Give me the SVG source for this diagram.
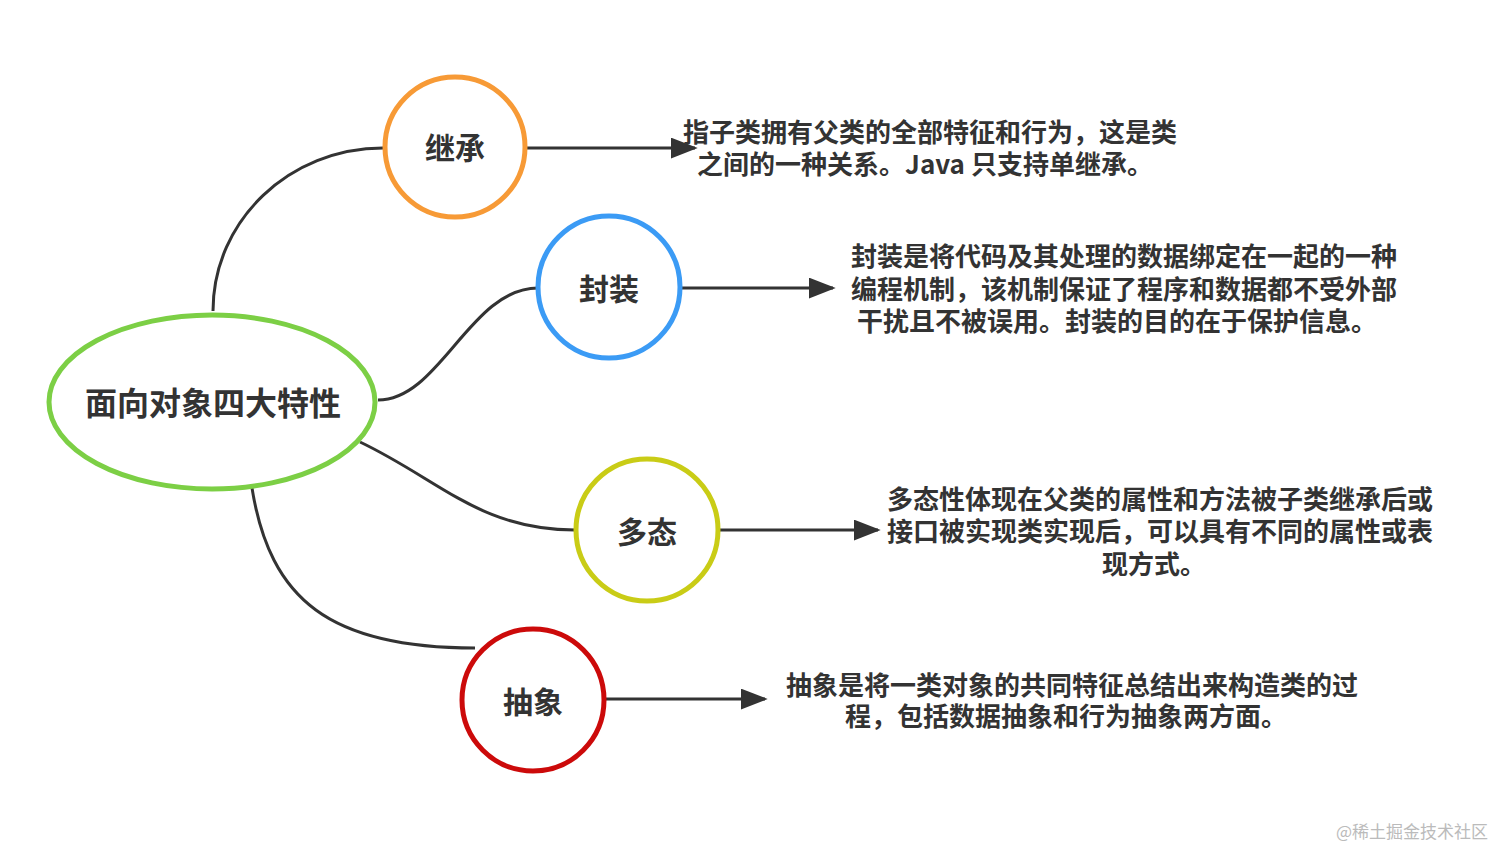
<svg xmlns="http://www.w3.org/2000/svg" width="1494" height="848" viewBox="0 0 1494 848">
<defs>
<marker id="ah" viewBox="0 0 10 10" refX="9" refY="5" markerWidth="9" markerHeight="7" markerUnits="strokeWidth" orient="auto" preserveAspectRatio="none"><path d="M0,0 L10,5 L0,10 z" fill="#333"/></marker>
<style>
.c{fill:#fff;stroke-width:5}
.l{font-family:"Noto Sans CJK SC","Noto Sans",sans-serif;font-weight:bold;fill:#333;text-anchor:middle}
.n{font-size:30px}
.d{font-size:26px}
.e{fill:none;stroke:#333;stroke-width:3}
</style>
</defs>
<rect width="1494" height="848" fill="#fff"/>
<g id="connectors">
<path class="e" d="M213,311 C213,220 290,148 383,148"/>
<path class="e" d="M378,400 C440,400 470,288 538,288"/>
<path class="e" d="M360,442 C440,480 480,530 575,530"/>
<path class="e" d="M252,488 C270,600 330,648 475,648"/>
<path class="e" d="M527,148 L695,148" marker-end="url(#ah)"/>
<path class="e" d="M681,288 L833,288" marker-end="url(#ah)"/>
<path class="e" d="M720,530 L878,530" marker-end="url(#ah)"/>
<path class="e" d="M606,699 L765,699" marker-end="url(#ah)"/>
</g>
<g id="root"><ellipse class="c" cx="212" cy="402" rx="163" ry="87" stroke="#7ccf45"/><text class="l" x="213" y="415" font-size="32">面向对象四大特性</text></g>
<g id="jicheng"><circle class="c" cx="455" cy="147" r="70" stroke="#f79a36"/><text class="l n" x="455" y="159">继承</text></g>
<g id="fengzhuang"><circle class="c" cx="609" cy="287" r="71" stroke="#3b9bf5"/><text class="l n" x="609" y="300">封装</text></g>
<g id="duotai"><circle class="c" cx="647" cy="530" r="71" stroke="#c9cc16"/><text class="l n" x="647" y="543">多态</text></g>
<g id="chouxiang"><circle class="c" cx="533" cy="700" r="71" stroke="#cc0a0a"/><text class="l n" x="533" y="713">抽象</text></g>
<g id="t1"><text class="l d" x="930" y="142">指子类拥有父类的全部特征和行为，这是类</text><text class="l d" x="925" y="174">之间的一种关系。Java 只支持单继承。</text></g>
<g id="t2"><text class="l d" x="1124" y="266">封装是将代码及其处理的数据绑定在一起的一种</text><text class="l d" x="1124" y="299">编程机制，该机制保证了程序和数据都不受外部</text><text class="l d" x="1117" y="331">干扰且不被误用。封装的目的在于保护信息。</text></g>
<g id="t3"><text class="l d" x="1160" y="509">多态性体现在父类的属性和方法被子类继承后或</text><text class="l d" x="1160" y="541">接口被实现类实现后，可以具有不同的属性或表</text><text class="l d" x="1154" y="574">现方式。</text></g>
<g id="t4"><text class="l d" x="1072" y="695">抽象是将一类对象的共同特征总结出来构造类的过</text><text class="l d" x="1066" y="726">程，包括数据抽象和行为抽象两方面。</text></g>
<text x="1488" y="838" text-anchor="end" font-family="'Noto Sans CJK SC',serif" font-size="17" fill="#bbb">@稀土掘金技术社区</text>
</svg>
